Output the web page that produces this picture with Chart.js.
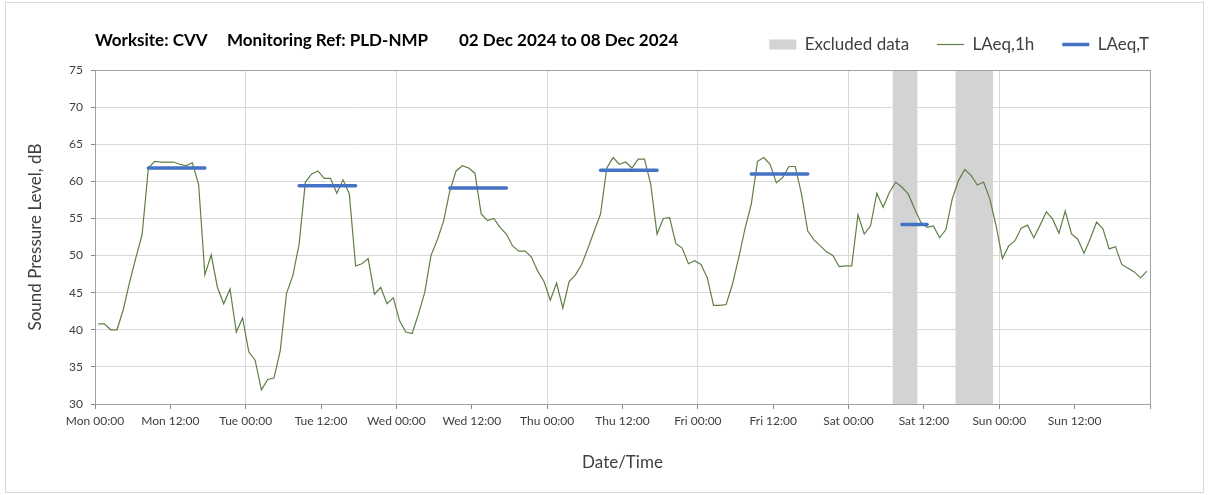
<!DOCTYPE html>
<html>
<head>
<meta charset="utf-8">
<title>Sound level - CVV</title>
<script src="https://cdn.jsdelivr.net/npm/chart.js@4.4.1/dist/chart.umd.min.js"></script>
<style>
    html, body { margin: 0; padding: 0; background: #fff; }
    #wrap { width: 1208px; height: 495px; }
</style>
</head>
<body>
<div id="wrap"><canvas id="myChart" width="1208" height="495"></canvas></div>
<script>
// Hourly LAeq,1h values (dB), Mon 00:00 -> Sun 23:00, one per hour
const laeq1h = [
    40.8, 40.8, 40.0, 40.0, 42.7, 46.4, 49.7, 52.8, 61.8, 62.7, 62.6, 62.6,
    62.6, 62.3, 62.1, 62.5, 59.6, 47.4, 50.1, 45.7, 43.5, 45.5, 39.7, 41.6,
    37.0, 35.9, 31.9, 33.3, 33.5, 37.2, 44.9, 47.3, 51.5, 59.9, 61.0, 61.4,
    60.4, 60.4, 58.4, 60.2, 58.3, 48.6, 48.9, 49.6, 44.8, 45.7, 43.5, 44.3,
    41.2, 39.7, 39.5, 42.1, 45.0, 50.0, 52.1, 54.6, 58.7, 61.4, 62.1, 61.8,
    61.1, 55.6, 54.7, 55.0, 53.8, 52.9, 51.3, 50.6, 50.6, 49.8, 47.9, 46.5,
    44.0, 46.3, 42.9, 46.5, 47.4, 48.8, 51.0, 53.3, 55.6, 61.8, 63.2, 62.3,
    62.6, 61.8, 63.0, 63.0, 59.6, 52.9, 55.0, 55.1, 51.6, 51.0, 48.9, 49.3,
    48.8, 47.0, 43.3, 43.3, 43.4, 46.1, 49.7, 53.6, 56.9, 62.7, 63.2, 62.3,
    59.8, 60.5, 62.0, 62.0, 58.3, 53.3, 52.1, 51.3, 50.5, 50.0, 48.5, 48.6,
    48.6, 55.5, 52.9, 54.0, 58.4, 56.5, 58.5, 59.9, 59.2, 58.3, 56.3, 54.5,
    53.8, 54.0, 52.4, 53.5, 57.6, 60.1, 61.6, 60.8, 59.5, 59.9, 57.6, 54.0,
    49.6, 51.3, 52.0, 53.7, 54.1, 52.4, 54.1, 55.9, 54.9, 53.0, 56.0, 52.9,
    52.2, 50.3, 52.3, 54.5, 53.6, 50.9, 51.2, 48.8, 48.3, 47.8, 47.0, 47.9
];

// LAeq,T periods (hours from Mon 00:00) and their levels
const periodStart = [8, 32, 56, 80, 104, 128];
const periodEnd = [18, 42, 66, 90, 114, 133];
const laeqT = [61.8, 59.4, 59.1, 61.5, 61.0, 54.2];

// Excluded data windows (hours from Mon 00:00)
const excludedStart = [127, 137];
const excludedEnd = [131, 143];

// Axis ticks
const xTickLabels = [
    'Mon 00:00', 'Mon 12:00', 'Tue 00:00', 'Tue 12:00', 'Wed 00:00', 'Wed 12:00',
    'Thu 00:00', 'Thu 12:00', 'Fri 00:00', 'Fri 12:00', 'Sat 00:00', 'Sat 12:00',
    'Sun 00:00', 'Sun 12:00'
];
const yMin = 30, yMax = 75, yStep = 5;

const titleParts = ['Worksite: CVV', 'Monitoring Ref: PLD-NMP', '02 Dec 2024 to 08 Dec 2024'];
const titleOffsets = [0, 132, 364];   // px from plot left

const GREEN = '#5f7f46';
const BLUE = '#4472c4';
const GREY = '#d3d3d3';
const FONT = "Lato, 'Open Sans', sans-serif";

// build datasets (points sit at the middle of each hour)
const hourlyPoints = laeq1h.map((v, i) => ({ x: i + 0.5, y: v }));

const periodPoints = [];
laeqT.forEach((v, i) => {
    periodPoints.push({ x: periodStart[i] + 0.5, y: v });
    periodPoints.push({ x: periodEnd[i] - 0.5, y: v });
    periodPoints.push({ x: periodEnd[i] - 0.5, y: null });
});

const excludedPoints = [];
excludedStart.forEach((s, i) => {
    excludedPoints.push({ x: s, y: yMax });
    excludedPoints.push({ x: excludedEnd[i], y: yMax });
    excludedPoints.push({ x: excludedEnd[i], y: null });
});

// frame, plot box and title text
const decorPlugin = {
    id: 'decor',
    afterDraw(chart) {
        const ctx = chart.ctx;
        const a = chart.chartArea;
        ctx.save();
        ctx.strokeStyle = '#d9d9d9';
        ctx.lineWidth = 1;
        ctx.strokeRect(5.5, 2.5, 1198, 490);
        ctx.strokeStyle = '#a0a0a0';
        ctx.strokeRect(Math.round(a.left) + 0.5, Math.round(a.top) + 0.5,
            Math.round(a.right - a.left), Math.round(a.bottom - a.top));
        ctx.fillStyle = '#000';
        ctx.font = 'bold 17px ' + FONT;
        ctx.textBaseline = 'alphabetic';
        titleParts.forEach((t, i) => ctx.fillText(t, a.left + titleOffsets[i], 46));
        ctx.restore();
    }
};

const legendItems = [
    { text: 'Excluded data', fillStyle: GREY, strokeStyle: GREY, lineWidth: 0, pointStyle: 'rect', hidden: false, fontColor: '#404040' },
    { text: 'LAeq,1h', fillStyle: GREEN, strokeStyle: GREEN, lineWidth: 1.2, pointStyle: 'line', hidden: false, fontColor: '#404040' },
    { text: 'LAeq,T', fillStyle: BLUE, strokeStyle: BLUE, lineWidth: 3.5, pointStyle: 'line', hidden: false, fontColor: '#404040' }
];

new Chart(document.getElementById('myChart'), {
    type: 'line',
    data: {
        datasets: [
            {
                label: 'LAeq,T',
                data: periodPoints,
                borderColor: BLUE,
                borderWidth: 3.5,
                borderCapStyle: 'round',
                pointRadius: 0,
                spanGaps: false,
                xAxisID: 'x', yAxisID: 'y',
                order: 0
            },
            {
                label: 'LAeq,1h',
                data: hourlyPoints,
                borderColor: GREEN,
                borderWidth: 1.2,
                pointRadius: 0,
                tension: 0,
                xAxisID: 'x', yAxisID: 'y',
                order: 1
            },
            {
                label: 'Excluded data',
                data: excludedPoints,
                borderWidth: 0,
                borderColor: GREY,
                backgroundColor: GREY,
                fill: 'start',
                pointRadius: 0,
                spanGaps: false,
                xAxisID: 'x', yAxisID: 'y',
                order: 2
            }
        ]
    },
    options: {
        responsive: false,
        animation: false,
        layout: { padding: { top: 8, left: 20, right: 31, bottom: 15 } },
        plugins: {
            tooltip: { enabled: false },
            legend: {
                position: 'top',
                align: 'end',
                onClick: null,
                labels: {
                    usePointStyle: true,
                    pointStyleWidth: 27,
                    boxHeight: 10,
                    padding: 28,
                    color: '#404040',
                    font: { family: FONT, size: 17 },
                    generateLabels: () => legendItems
                }
            }
        },
        scales: {
            x: {
                type: 'linear',
                position: 'bottom',
                min: 0,
                max: 168,
                ticks: {
                    stepSize: 12,
                    autoSkip: false,
                    maxRotation: 0,
                    padding: 5,
                    color: '#404040',
                    font: { family: FONT, size: 12 },
                    callback: v => xTickLabels[v / 12] || ''
                },
                grid: {
                    color: c => (c.tick && c.tick.value % 24 === 0) ? '#d9d9d9' : 'rgba(0,0,0,0)',
                    tickColor: '#868686',
                    tickLength: 5
                },
                border: { color: '#868686' },
                title: {
                    display: true,
                    text: 'Date/Time',
                    color: '#404040',
                    font: { family: FONT, size: 17 },
                    padding: { top: 4, bottom: 7 }
                },
                afterFit: s => { s.height = 76; }
            },
            xTop: {
                type: 'linear',
                position: 'top',
                grid: { display: false },
                ticks: { display: false },
                border: { display: false },
                afterFit: s => { s.height = 7; }
            },
            y: {
                type: 'linear',
                position: 'left',
                min: yMin,
                max: yMax,
                ticks: {
                    stepSize: yStep,
                    padding: 8,
                    color: '#404040',
                    font: { family: FONT, size: 12 }
                },
                grid: {
                    color: '#d9d9d9',
                    tickColor: '#868686',
                    tickLength: 4
                },
                border: { color: '#868686' },
                title: {
                    display: true,
                    text: 'Sound Pressure Level, dB',
                    color: '#404040',
                    font: { family: FONT, size: 17 },
                    padding: { top: 5, bottom: 4 }
                },
                afterFit: s => { s.width = 75; }
            },
            yRight: {
                type: 'linear',
                position: 'right',
                grid: { display: false },
                ticks: { display: false },
                border: { display: false },
                afterFit: s => { s.width = 27; }
            }
        }
    },
    plugins: [decorPlugin]
});
</script>
</body>
</html>
